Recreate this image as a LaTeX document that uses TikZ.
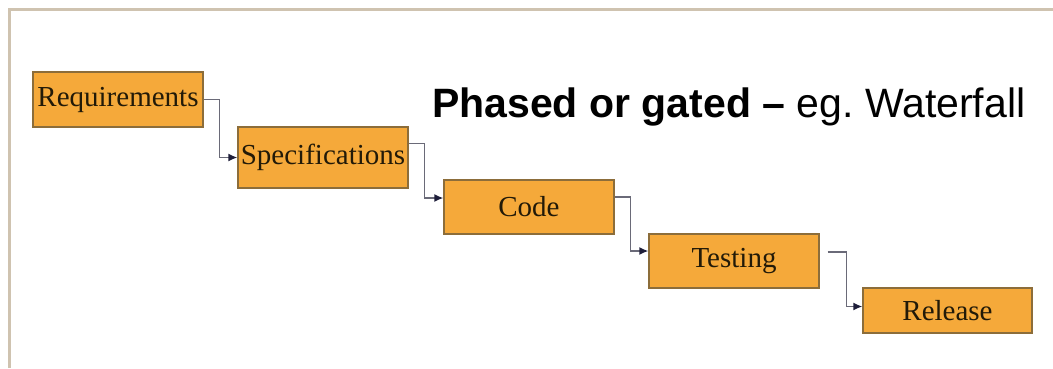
\documentclass[tikz,border=0pt]{standalone}
\usepackage{fontspec}
\setmainfont{Liberation Serif}
\newfontfamily\titlefont{Liberation Sans}
\usetikzlibrary{arrows.meta}
\definecolor{boxfill}{HTML}{F5A93A}
\definecolor{boxline}{HTML}{8C6D3A}
\definecolor{boxtext}{HTML}{221A08}
\definecolor{frameline}{HTML}{CFC3B0}
\definecolor{conn}{HTML}{6A6A78}
\definecolor{tip}{HTML}{1E1E3A}
\tikzset{
  phase/.style={draw=boxline, line width=1.3pt, fill=boxfill, text=boxtext,
    inner sep=0pt, minimum width=170pt,
    font=\fontsize{29}{32}\selectfont},
  flow/.style={draw=conn, line width=1.5pt,
    -{Latex[length=9pt,width=8pt,fill=tip,color=tip]}},
}
\begin{document}
\begin{tikzpicture}[x=1pt,y=-1pt]
\useasboundingbox (0,0) rectangle (1053,368);
\draw[frameline, line width=3pt] (9,368) -- (9,9) -- (1053,9);

\node[phase, minimum height=55pt] (req) at (118,99.5) {Requirements};
\node[phase, minimum height=61pt] (spec) at (323,157.5) {Specifications};
\node[phase, minimum height=54pt] (code) at (529,207) {\raisebox{-3pt}{Code}};
\node[phase, minimum height=54pt] (test) at (734,261) {\raisebox{-3pt}{Testing}};
\node[phase, minimum height=45pt, minimum width=169pt] (rel) at (947.5,310.5) {\raisebox{-2pt}{Release}};

\node[anchor=base west, inner sep=0pt, font=\titlefont\fontsize{41}{45}\selectfont, text=black] (title) at (432,117)
  {\textbf{Phased or gated –} eg.\ Waterfall};

\draw[flow] (req.east) -| ([xshift=-18pt]spec.west) -- (spec.west);
\draw[flow] ([yshift=14pt]spec.east) -| ([xshift=-19pt,yshift=9pt]code.west) -- ([yshift=9pt]code.west);
\draw[flow] ([yshift=10pt]code.east) -| ([xshift=-18pt,yshift=10pt]test.west) -- ([yshift=10pt]test.west);
\draw[flow] ([xshift=8pt,yshift=9pt]test.east) -| ([xshift=-16pt,yshift=4pt]rel.west) -- ([yshift=4pt]rel.west);
\end{tikzpicture}
\end{document}
